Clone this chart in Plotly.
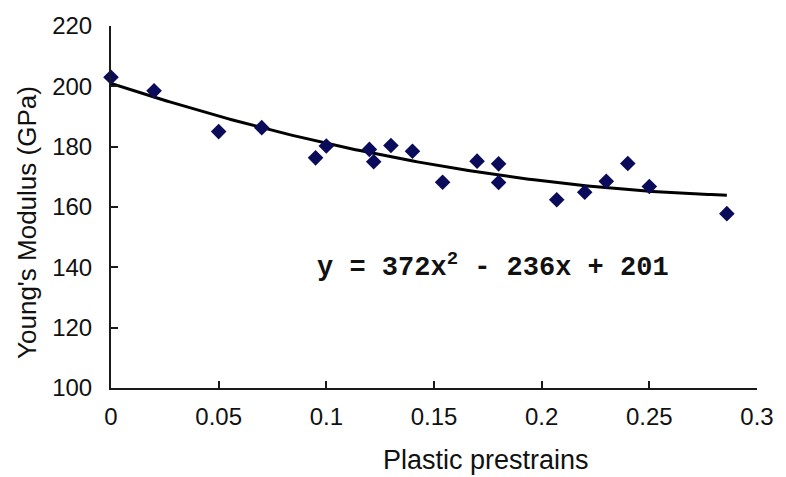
import numpy as np
import plotly.graph_objects as go

# Data
prestrain = [0.0, 0.02, 0.05, 0.07, 0.095, 0.10, 0.12, 0.122, 0.13, 0.14,
             0.154, 0.17, 0.18, 0.18, 0.207, 0.22, 0.23, 0.24, 0.25, 0.286]
modulus = [203, 198.5, 185, 186.3, 176.3, 180.2, 179.1, 175.0, 180.4, 178.5,
           168.2, 175.2, 174.3, 168.1, 162.4, 164.9, 168.5, 174.4, 166.8, 157.8]

# Trendline as printed on the chart: y = 372x^2 - 236x + 201
trend_coeffs = [372, -236, 201]
trend_x_range = [0.0, 0.286]

x_ticks = [0, 0.05, 0.1, 0.15, 0.2, 0.25, 0.3]
x_ticktext = ["0", "0.05", "0.1", "0.15", "0.2", "0.25", "0.3"]
y_ticks = [100, 120, 140, 160, 180, 200, 220]

x_title = "Plastic prestrains"
y_title = "Young's Modulus (GPa)"
equation = "y = 372x<sup>2</sup> - 236x + 201"

tx = np.linspace(trend_x_range[0], trend_x_range[1], 200)
ty = np.polyval(trend_coeffs, tx)

fig = go.Figure()
fig.add_trace(go.Scatter(x=tx, y=ty, mode="lines",
                         line=dict(color="#000000", width=3),
                         hoverinfo="skip", cliponaxis=False))
fig.add_trace(go.Scatter(x=prestrain, y=modulus, mode="markers",
                         marker=dict(symbol="diamond", size=12, color="#0b0b5c"),
                         cliponaxis=False))

axis_color = "#1a1a1a"
tick_font = dict(family="Liberation Sans, Arial, sans-serif", size=24, color="#111111")

fig.update_xaxes(range=[0, 0.3], tickvals=x_ticks, ticktext=x_ticktext,
                 showline=True, linecolor=axis_color, linewidth=2,
                 ticks="inside", ticklen=7, tickwidth=2, tickcolor=axis_color,
                 showgrid=False, zeroline=False, tickfont=tick_font,
                 ticklabelstandoff=6)
fig.update_yaxes(range=[100, 220], tickvals=y_ticks,
                 showline=True, linecolor=axis_color, linewidth=2,
                 ticks="inside", ticklen=7, tickwidth=2, tickcolor=axis_color,
                 showgrid=False, zeroline=False, tickfont=tick_font,
                 ticklabelstandoff=12)

fig.add_annotation(text=x_title, xref="paper", yref="paper", x=0.58, y=-0.2,
                   yanchor="middle", xanchor="center", showarrow=False,
                   font=dict(family="Liberation Sans, Arial, sans-serif", size=27, color="#111111"))
fig.add_annotation(text=y_title, xref="paper", yref="paper", x=-0.131, y=0.457,
                   xanchor="center", yanchor="middle", textangle=-90,
                   showarrow=False,
                   font=dict(family="Liberation Sans, Arial, sans-serif", size=26, color="#111111"))
fig.add_annotation(text="<b>" + equation + "</b>", xref="x", yref="y",
                   x=0.0947, y=140.5, xanchor="left", yanchor="middle",
                   showarrow=False,
                   font=dict(family="Liberation Mono, Courier New, monospace",
                             size=27, color="#111111"))

fig.update_layout(width=786, height=477, showlegend=False,
                  margin=dict(l=111, r=20, t=22, b=89),
                  paper_bgcolor="white", plot_bgcolor="white")

fig.write_html("out.html")
